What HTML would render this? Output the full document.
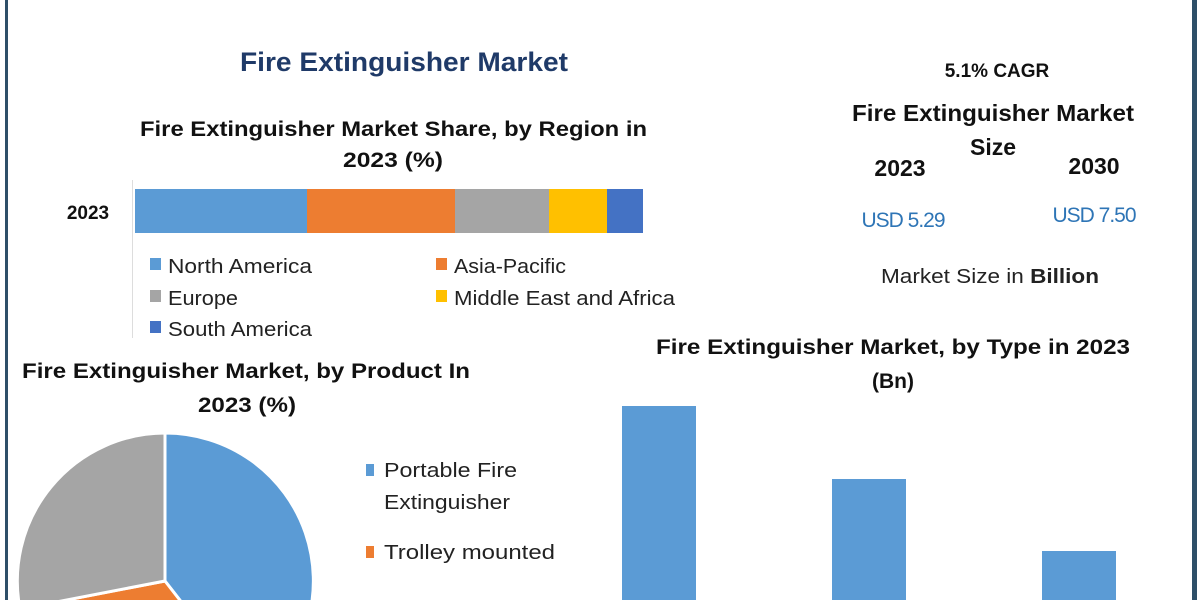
<!DOCTYPE html>
<html><head><meta charset="utf-8"><style>
html,body{margin:0;padding:0;background:#fff;width:1200px;height:600px;overflow:hidden}
svg{display:block}
text{font-family:"Liberation Sans",sans-serif}
</style></head><body>
<svg width="1200" height="600" viewBox="0 0 1200 600" xmlns="http://www.w3.org/2000/svg">
<rect width="1200" height="600" fill="#fff"/>
<rect x="5" y="0" width="3" height="600" fill="#2e4f68"/>
<rect x="1192" y="0" width="5" height="600" fill="#2e4f68"/>
<text x="240" y="71" font-size="27" font-weight="bold" fill="#1f3a68" textLength="328" lengthAdjust="spacingAndGlyphs">Fire Extinguisher Market</text>
<text x="140" y="136" font-size="21" font-weight="bold" fill="#111" textLength="507" lengthAdjust="spacingAndGlyphs">Fire Extinguisher Market Share, by Region in</text>
<text x="343" y="167" font-size="21" font-weight="bold" fill="#111" textLength="100" lengthAdjust="spacingAndGlyphs">2023 (%)</text>
<line x1="132.5" y1="180" x2="132.5" y2="338" stroke="#ddd"/>
<text x="88" y="219" text-anchor="middle" font-size="19" font-weight="bold" fill="#111">2023</text>
<rect x="135" y="189" width="172" height="44" fill="#5b9bd5"/>
<rect x="307" y="189" width="148" height="44" fill="#ed7d31"/>
<rect x="455" y="189" width="94" height="44" fill="#a5a5a5"/>
<rect x="549" y="189" width="58" height="44" fill="#ffc000"/>
<rect x="607" y="189" width="36" height="44" fill="#4472c4"/>
<g font-size="20" fill="#222">
<rect x="150" y="258" width="11" height="12" fill="#5b9bd5"/><text x="168" y="273" textLength="144" lengthAdjust="spacingAndGlyphs">North America</text>
<rect x="436" y="258" width="11" height="12" fill="#ed7d31"/><text x="454" y="273" textLength="112" lengthAdjust="spacingAndGlyphs">Asia-Pacific</text>
<rect x="150" y="290" width="11" height="12" fill="#a5a5a5"/><text x="168" y="305" textLength="70" lengthAdjust="spacingAndGlyphs">Europe</text>
<rect x="436" y="290" width="11" height="12" fill="#ffc000"/><text x="454" y="305" textLength="221" lengthAdjust="spacingAndGlyphs">Middle East and Africa</text>
<rect x="150" y="321" width="11" height="12" fill="#4472c4"/><text x="168" y="336" textLength="144" lengthAdjust="spacingAndGlyphs">South America</text>
</g>
<text x="997" y="77" text-anchor="middle" font-size="19" font-weight="bold" fill="#111">5.1% CAGR</text>
<text x="852" y="121" font-size="23" font-weight="bold" fill="#111" textLength="282" lengthAdjust="spacingAndGlyphs">Fire Extinguisher Market</text>
<text x="993" y="155" text-anchor="middle" font-size="23" font-weight="bold" fill="#111">Size</text>
<text x="900" y="176" text-anchor="middle" font-size="23" font-weight="bold" fill="#111">2023</text>
<text x="1094" y="174" text-anchor="middle" font-size="23" font-weight="bold" fill="#111">2030</text>
<text x="903" y="227" text-anchor="middle" font-size="21" fill="#2e75b6" letter-spacing="-1">USD 5.29</text>
<text x="1094" y="222" text-anchor="middle" font-size="21" fill="#2e75b6" letter-spacing="-1">USD 7.50</text>
<text x="881" y="283" font-size="20" fill="#222" textLength="218" lengthAdjust="spacingAndGlyphs">Market Size in <tspan font-weight="bold">Billion</tspan></text>
<text x="22" y="378" font-size="21" font-weight="bold" fill="#111" textLength="448" lengthAdjust="spacingAndGlyphs">Fire Extinguisher Market, by Product In</text>
<text x="198" y="412" font-size="21" font-weight="bold" fill="#111" textLength="98" lengthAdjust="spacingAndGlyphs">2023 (%)</text>
<g stroke="#fff" stroke-width="3">
<path d="M165,581 L165,433 A148,148 0 0 1 256,698 Z" fill="#5b9bd5"/>
<path d="M165,581 L256,698 A148,148 0 0 1 20,609 Z" fill="#ed7d31"/>
<path d="M165,581 L20,609 A148,148 0 0 1 165,433 Z" fill="#a5a5a5"/>
</g>
<g font-size="20" fill="#222">
<rect x="366" y="464" width="8" height="12" fill="#5b9bd5"/><text x="384" y="477" textLength="133" lengthAdjust="spacingAndGlyphs">Portable Fire</text>
<text x="384" y="509" textLength="126" lengthAdjust="spacingAndGlyphs">Extinguisher</text>
<rect x="366" y="546" width="8" height="12" fill="#ed7d31"/><text x="384" y="559" textLength="171" lengthAdjust="spacingAndGlyphs">Trolley mounted</text>
</g>
<text x="656" y="354" font-size="21" font-weight="bold" fill="#111" textLength="474" lengthAdjust="spacingAndGlyphs">Fire Extinguisher Market, by Type in 2023</text>
<text x="893" y="388" text-anchor="middle" font-size="21" font-weight="bold" fill="#111">(Bn)</text>
<rect x="622" y="406" width="74" height="194" fill="#5b9bd5"/>
<rect x="832" y="479" width="74" height="121" fill="#5b9bd5"/>
<rect x="1042" y="551" width="74" height="49" fill="#5b9bd5"/>
</svg>
</body></html>
